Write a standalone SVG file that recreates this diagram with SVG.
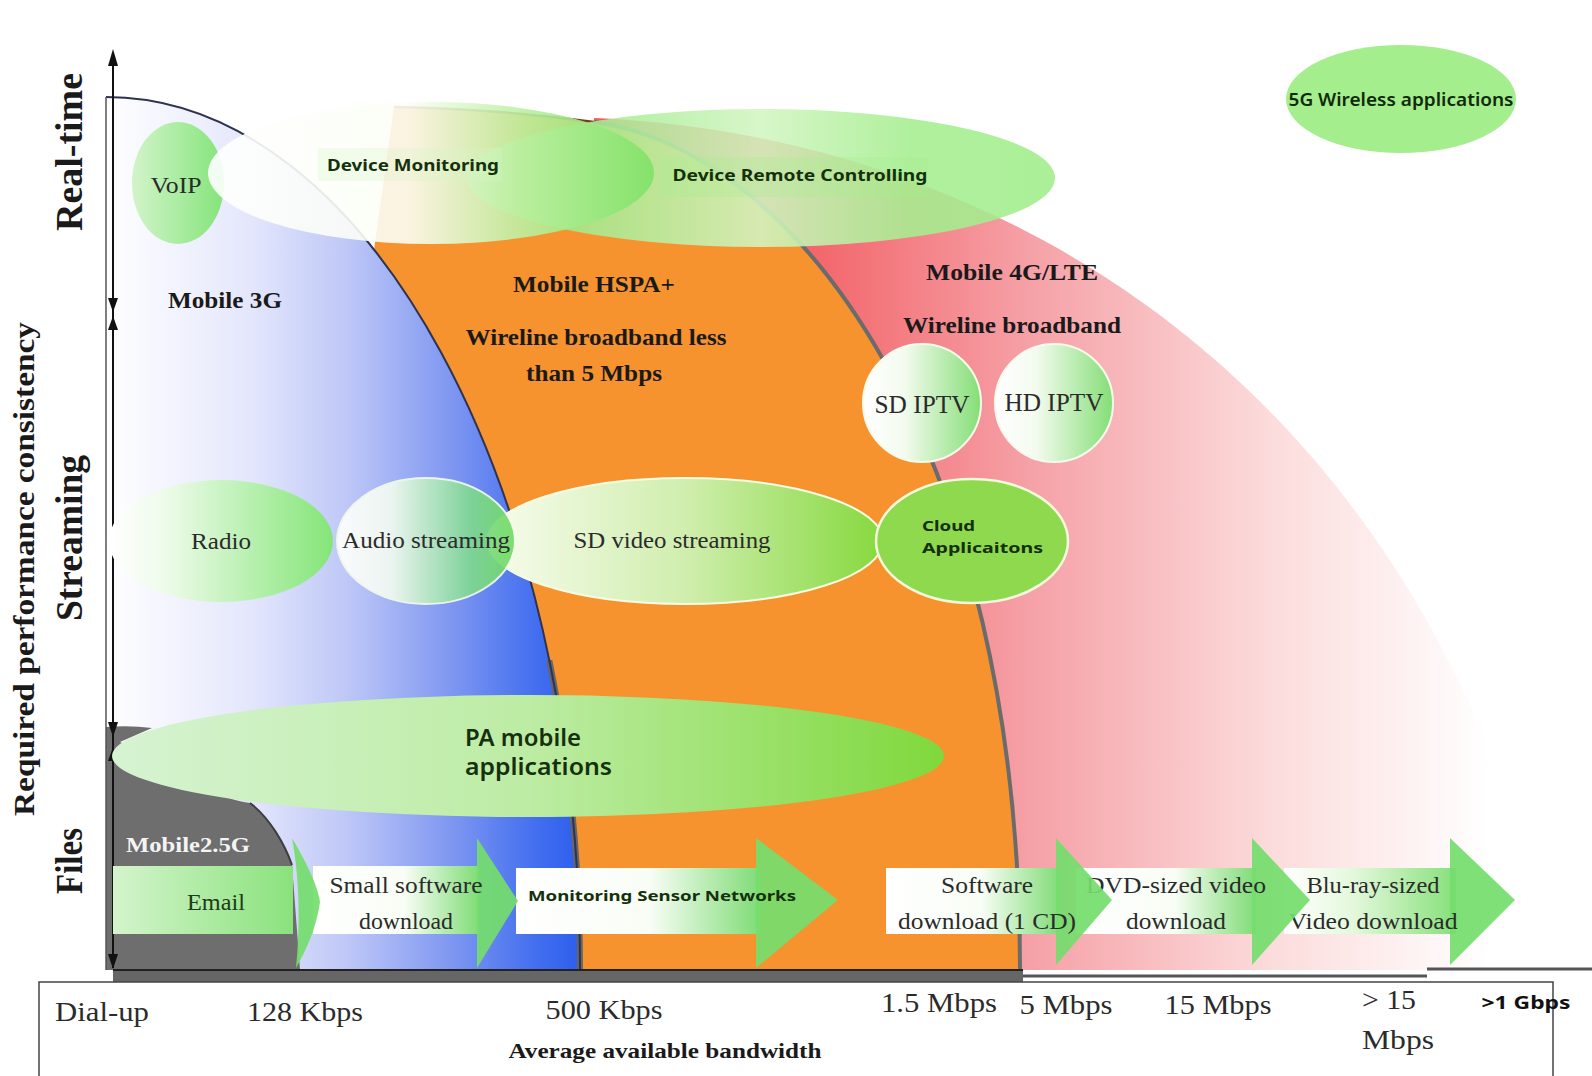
<svg xmlns="http://www.w3.org/2000/svg" width="1592" height="1076" viewBox="0 0 1592 1076">
<defs>
<style>
.ser{font-family:"Liberation Serif","Times New Roman",serif;fill:#2b2b2b}
.serb{font-family:"Liberation Serif","Times New Roman",serif;font-weight:bold;fill:#1a1a1a}
.sans{font-family:"Noto Sans","DejaVu Sans",sans-serif;font-weight:bold;fill:#15300c}
.mid{text-anchor:middle}
.ah{fill:#111}
.head{fill:#74dd6c;opacity:0.92}
</style>
<clipPath id="lowerClip"><rect x="0" y="660" width="1592" height="320"/></clipPath>
<linearGradient id="g3g" gradientUnits="userSpaceOnUse" x1="106" y1="0" x2="585" y2="0">
<stop offset="0" stop-color="#ffffff"/>
<stop offset="0.3" stop-color="#e4e7fc"/>
<stop offset="0.5" stop-color="#bfc8f7"/>
<stop offset="0.72" stop-color="#7f97f1"/>
<stop offset="0.9" stop-color="#426eef"/>
<stop offset="1" stop-color="#2b5ded"/>
</linearGradient>
<linearGradient id="g4g" gradientUnits="userSpaceOnUse" x1="770" y1="0" x2="1490" y2="0">
<stop offset="0" stop-color="#f25a5e"/>
<stop offset="0.35" stop-color="#f59fa5"/>
<stop offset="0.7" stop-color="#fcdcdc"/>
<stop offset="1" stop-color="#ffffff"/>
</linearGradient>
<linearGradient id="gVoip" x1="0" y1="0" x2="1" y2="0">
<stop offset="0" stop-color="#d2f4ca"/><stop offset="1" stop-color="#84e47a"/>
</linearGradient>
<linearGradient id="gDM" x1="0" y1="0" x2="1" y2="0">
<stop offset="0" stop-color="#ffffff"/><stop offset="0.45" stop-color="#fbfef5"/>
<stop offset="0.7" stop-color="#bdf0a2"/><stop offset="1" stop-color="#7fe266"/>
</linearGradient>
<linearGradient id="gDR" x1="0" y1="0" x2="1" y2="0">
<stop offset="0" stop-color="#86e46e"/><stop offset="0.3" stop-color="#b2efa0"/>
<stop offset="0.5" stop-color="#d2f5c2"/><stop offset="0.75" stop-color="#a6ee90"/>
<stop offset="1" stop-color="#a0ed8a"/>
</linearGradient>
<linearGradient id="gIP" x1="0" y1="0" x2="1" y2="0">
<stop offset="0" stop-color="#ffffff"/><stop offset="0.35" stop-color="#f3fbee"/>
<stop offset="1" stop-color="#84de76"/>
</linearGradient>
<linearGradient id="gRadio" x1="0" y1="0" x2="1" y2="0">
<stop offset="0" stop-color="#ffffff"/><stop offset="0.25" stop-color="#eefbea"/>
<stop offset="1" stop-color="#84e578"/>
</linearGradient>
<linearGradient id="gAudio" x1="0" y1="0" x2="1" y2="0">
<stop offset="0" stop-color="#ffffff"/><stop offset="0.3" stop-color="#f3fbf1"/>
<stop offset="0.75" stop-color="#7fd892"/>
<stop offset="1" stop-color="#72dc62"/>
</linearGradient>
<linearGradient id="gSDV" x1="0" y1="0" x2="1" y2="0">
<stop offset="0" stop-color="#f8fcee"/><stop offset="0.5" stop-color="#d0eeae"/>
<stop offset="1" stop-color="#86d93e"/>
</linearGradient>
<linearGradient id="gPA" x1="0" y1="0" x2="1" y2="0">
<stop offset="0" stop-color="#d6f3d2"/><stop offset="0.5" stop-color="#bdeca4"/>
<stop offset="1" stop-color="#7fd83c"/>
</linearGradient>
<linearGradient id="gEmail" x1="0" y1="0" x2="1" y2="0">
<stop offset="0" stop-color="#d4f4cc"/><stop offset="1" stop-color="#8ae27c"/>
</linearGradient>
<linearGradient id="gBody" x1="0" y1="0" x2="1" y2="0">
<stop offset="0" stop-color="#ffffff"/><stop offset="0.55" stop-color="#f8fdf5"/>
<stop offset="1" stop-color="#7fdc76"/>
</linearGradient>
<linearGradient id="gBody2" x1="0" y1="0" x2="1" y2="0">
<stop offset="0" stop-color="#ffffff"/><stop offset="0.4" stop-color="#e4f8dc"/>
<stop offset="1" stop-color="#86e07a"/>
</linearGradient>
</defs>

<rect width="1592" height="1076" fill="#ffffff"/>

<g id="regions">
<path id="region-4g" d="M600,300 L594,118 C1000,135 1400,380 1540,900 L1545,970 L900,970 Z" fill="url(#g4g)"/>
<path id="region-hspa" d="M374,250 L394,107 C450,108 520,112 594,122 C800,150 1020,450 1020,970 L400,970 Z" fill="#f7932f"/>
<path d="M394,107 C450,108 520,112 594,122" fill="none" stroke="#7a3a22" stroke-width="2.5"/>
<path d="M594,122 C800,150 1020,450 1020,970" fill="none" stroke="#6b6b6b" stroke-width="4"/>
<path id="region-3g" d="M106,970 L106,97 C368,97 580,488 580,970 Z" fill="url(#g3g)"/>
<path d="M106,97 C368,97 580,488 580,970" fill="none" stroke="#666" stroke-width="6" clip-path="url(#lowerClip)"/>
<path d="M106,97 C368,97 580,488 580,970" fill="none" stroke="#2e3350" stroke-width="2"/>
<path id="region-25g" d="M106,970 L106,727 Q130,725 152,728 L120,742 L200,782 Q224,800 250,803 C270,818 285,845 292,865 L300,970 Z" fill="#6e6e6e"/>
<path d="M250,803 C270,818 285,845 292,865" fill="none" stroke="#3e3e3e" stroke-width="2"/>
</g>

<g id="axis-y">
<line x1="106" y1="97" x2="106" y2="970" stroke="#555" stroke-width="1.5"/>
<line x1="113" y1="60" x2="113" y2="968" stroke="#111" stroke-width="2"/>
<polygon class="ah" points="113,49 108,66 118,66"/>
<polygon class="ah" points="108,298 118,298 113,312"/>
<polygon class="ah" points="113,316 108,330 118,330"/>
<polygon class="ah" points="108,722 118,722 113,737"/>
<polygon class="ah" points="113,747 108,761 118,761"/>
<polygon class="ah" points="108,954 118,954 113,969"/>
</g>

<g id="region-labels">
<text class="serb mid" x="225" y="308" font-size="24" textLength="114" lengthAdjust="spacingAndGlyphs">Mobile 3G</text>
<text class="serb mid" x="594" y="292" font-size="24" textLength="162" lengthAdjust="spacingAndGlyphs" fill="#2a1608">Mobile HSPA+</text>
<text class="serb mid" x="596" y="345" font-size="24" textLength="261" lengthAdjust="spacingAndGlyphs">Wireline broadband less</text>
<text class="serb mid" x="594" y="381" font-size="24" textLength="136" lengthAdjust="spacingAndGlyphs">than 5 Mbps</text>
<text class="serb mid" x="1012" y="280" font-size="24" textLength="172" lengthAdjust="spacingAndGlyphs">Mobile 4G/LTE</text>
<text class="serb mid" x="1012" y="333" font-size="24" textLength="218" lengthAdjust="spacingAndGlyphs">Wireline broadband</text>
<text class="serb mid" x="188" y="852" font-size="21" textLength="124" lengthAdjust="spacingAndGlyphs" style="fill:#f4f4f4">Mobile2.5G</text>
</g>

<g id="voip">
<ellipse cx="178" cy="183" rx="46" ry="61" fill="url(#gVoip)"/>
<text class="ser mid" x="176" y="193" font-size="24" textLength="51" lengthAdjust="spacingAndGlyphs">VoIP</text>
</g>
<g id="device-remote-controlling">
<ellipse cx="761" cy="178" rx="294" ry="69" fill="url(#gDR)" opacity="0.88"/>
<rect x="660" y="157" width="268" height="40" fill="#a6ee8e" opacity="0.3"/>
<text class="sans mid" x="800" y="181" font-size="16" textLength="255" lengthAdjust="spacingAndGlyphs">Device Remote Controlling</text>
</g>
<g id="device-monitoring">
<ellipse cx="431" cy="173" rx="223" ry="71" fill="url(#gDM)" opacity="0.9"/>
<rect x="318" y="148" width="184" height="33" fill="#d6f4c6" opacity="0.3"/>
<text class="sans mid" x="413" y="171" font-size="16" textLength="172" lengthAdjust="spacingAndGlyphs">Device Monitoring</text>
</g>
<g id="wireless-5g">
<ellipse cx="1401" cy="99" rx="115" ry="54" fill="#a5ee8d"/>
<text class="sans mid" x="1401" y="106" font-size="18" textLength="225" lengthAdjust="spacingAndGlyphs" style="font-weight:600;fill:#102a0a">5G Wireless applications</text>
</g>
<g id="sd-iptv">
<circle cx="922" cy="403" r="59" fill="url(#gIP)" stroke="#f4fbec" stroke-width="2"/>
<text class="ser mid" x="922" y="413" font-size="25" textLength="95" lengthAdjust="spacingAndGlyphs">SD IPTV</text>
</g>
<g id="hd-iptv">
<circle cx="1054" cy="403" r="59" fill="url(#gIP)" stroke="#f4fbec" stroke-width="2"/>
<text class="ser mid" x="1054" y="411" font-size="25" textLength="99" lengthAdjust="spacingAndGlyphs">HD IPTV</text>
</g>
<g id="radio">
<ellipse cx="221" cy="541" rx="112" ry="61" fill="url(#gRadio)"/>
<text class="ser mid" x="221" y="549" font-size="24" textLength="60" lengthAdjust="spacingAndGlyphs">Radio</text>
</g>
<g id="sd-video-streaming">
<ellipse cx="685" cy="541" rx="198" ry="63" fill="url(#gSDV)" stroke="#f6fbe4" stroke-width="2"/>
<text class="ser mid" x="672" y="548" font-size="24" textLength="197" lengthAdjust="spacingAndGlyphs">SD video streaming</text>
</g>
<g id="audio-streaming">
<ellipse cx="426" cy="541" rx="89" ry="63" fill="url(#gAudio)" stroke="#f2fbea" stroke-width="2" opacity="0.92"/>
<text class="ser mid" x="426" y="548" font-size="24" textLength="168" lengthAdjust="spacingAndGlyphs">Audio streaming</text>
</g>
<g id="cloud-applications">
<ellipse cx="972" cy="541" rx="96" ry="62" fill="#8fd94f" stroke="#f2f8dc" stroke-width="2.5"/>
<text class="sans" x="922" y="531" font-size="15" textLength="53" lengthAdjust="spacingAndGlyphs">Cloud</text>
<text class="sans" x="922" y="553" font-size="15" textLength="121" lengthAdjust="spacingAndGlyphs">Applicaitons</text>
</g>
<g id="pa-mobile-applications">
<ellipse cx="528" cy="756" rx="416" ry="61" fill="url(#gPA)"/>
<text class="sans" x="465" y="746" font-size="23" textLength="116" lengthAdjust="spacingAndGlyphs" style="font-weight:600">PA mobile</text>
<text class="sans" x="465" y="775" font-size="23" textLength="147" lengthAdjust="spacingAndGlyphs" style="font-weight:600">applications</text>
</g>

<g id="arrows">
<g id="arrow-bluray">
<rect x="1284" y="868" width="172" height="66" fill="url(#gBody2)"/>
<polygon class="head" points="1450,838 1515,900 1450,965"/>
<text class="ser mid" x="1373" y="893" font-size="24" textLength="133" lengthAdjust="spacingAndGlyphs">Blu-ray-sized</text>
<text class="ser mid" x="1373" y="929" font-size="24" textLength="169" lengthAdjust="spacingAndGlyphs">Video download</text>
</g>
<g id="arrow-dvd">
<rect x="1076" y="868" width="180" height="66" fill="url(#gBody)"/>
<polygon class="head" points="1252,838 1310,900 1252,965"/>
<text class="ser mid" x="1176" y="893" font-size="24" textLength="180" lengthAdjust="spacingAndGlyphs">DVD-sized video</text>
<text class="ser mid" x="1176" y="929" font-size="24" textLength="100" lengthAdjust="spacingAndGlyphs">download</text>
</g>
<g id="arrow-software-cd">
<rect x="886" y="868" width="174" height="66" fill="url(#gBody)"/>
<polygon class="head" points="1056,838 1112,900 1056,965"/>
<text class="ser mid" x="987" y="893" font-size="24" textLength="92" lengthAdjust="spacingAndGlyphs">Software</text>
<text class="ser mid" x="987" y="929" font-size="24" textLength="178" lengthAdjust="spacingAndGlyphs">download (1 CD)</text>
</g>
<g id="arrow-monitoring">
<rect x="516" y="868" width="244" height="66" fill="url(#gBody)"/>
<polygon class="head" points="756,838 838,900 756,968"/>
<text class="sans mid" x="662" y="901" font-size="15" textLength="268" lengthAdjust="spacingAndGlyphs">Monitoring Sensor Networks</text>
</g>
<g id="arrow-small-software">
<rect x="313" y="866" width="166" height="68" fill="url(#gBody)"/>
<polygon class="head" points="477,838 518,901 477,968"/>
<text class="ser mid" x="406" y="893" font-size="24" textLength="153" lengthAdjust="spacingAndGlyphs">Small software</text>
<text class="ser mid" x="406" y="929" font-size="24" textLength="94" lengthAdjust="spacingAndGlyphs">download</text>
</g>
<g id="arrow-email">
<rect x="113" y="866" width="180" height="68" fill="url(#gEmail)"/>
<path class="head" d="M292,838 C305,860 318,885 320,902 C316,930 306,950 296,968 C300,930 300,880 292,838 Z"/>
<text class="ser mid" x="216" y="910" font-size="24" textLength="58" lengthAdjust="spacingAndGlyphs" style="fill:#1e3a18">Email</text>
</g>
</g>

<g id="axis-x">
<rect x="113" y="970" width="910" height="12" fill="#666"/>
<line x1="113" y1="970" x2="1023" y2="970" stroke="#222" stroke-width="2"/>
<line x1="1023" y1="976" x2="1427" y2="976" stroke="#555" stroke-width="3"/>
<line x1="1427" y1="969" x2="1592" y2="969" stroke="#555" stroke-width="3"/>
<path d="M39,1076 L39,982 L1553,982 L1553,1076" fill="none" stroke="#444" stroke-width="1.5"/>
<text class="ser mid" x="102" y="1021" font-size="28" textLength="94" lengthAdjust="spacingAndGlyphs">Dial-up</text>
<text class="ser mid" x="305" y="1021" font-size="28" textLength="116" lengthAdjust="spacingAndGlyphs">128 Kbps</text>
<text class="ser mid" x="604" y="1019" font-size="28" textLength="117" lengthAdjust="spacingAndGlyphs">500 Kbps</text>
<text class="ser mid" x="939" y="1012" font-size="28" textLength="116" lengthAdjust="spacingAndGlyphs">1.5 Mbps</text>
<text class="ser mid" x="1066" y="1014" font-size="28" textLength="93" lengthAdjust="spacingAndGlyphs">5 Mbps</text>
<text class="ser mid" x="1218" y="1014" font-size="28" textLength="107" lengthAdjust="spacingAndGlyphs">15 Mbps</text>
<text class="ser mid" x="1389" y="1009" font-size="28" textLength="54" lengthAdjust="spacingAndGlyphs">&gt; 15</text>
<text class="ser mid" x="1398" y="1049" font-size="28" textLength="72" lengthAdjust="spacingAndGlyphs">Mbps</text>
<text class="sans mid" x="1526" y="1009" font-size="18" textLength="89" lengthAdjust="spacingAndGlyphs" style="fill:#111">&gt;1 Gbps</text>
<text class="serb mid" x="665" y="1058" font-size="22" textLength="313" lengthAdjust="spacingAndGlyphs">Average available bandwidth</text>
</g>

<g id="axis-y-labels">
<text class="serb mid" transform="translate(82,152) rotate(-90)" font-size="38" textLength="158" lengthAdjust="spacingAndGlyphs">Real-time</text>
<text class="serb mid" transform="translate(82,538) rotate(-90)" font-size="38" textLength="166" lengthAdjust="spacingAndGlyphs">Streaming</text>
<text class="serb mid" transform="translate(82,861) rotate(-90)" font-size="38" textLength="66" lengthAdjust="spacingAndGlyphs">Files</text>
<text class="serb mid" transform="translate(34,569) rotate(-90)" font-size="29" textLength="494" lengthAdjust="spacingAndGlyphs">Required performance consistency</text>
</g>
</svg>
